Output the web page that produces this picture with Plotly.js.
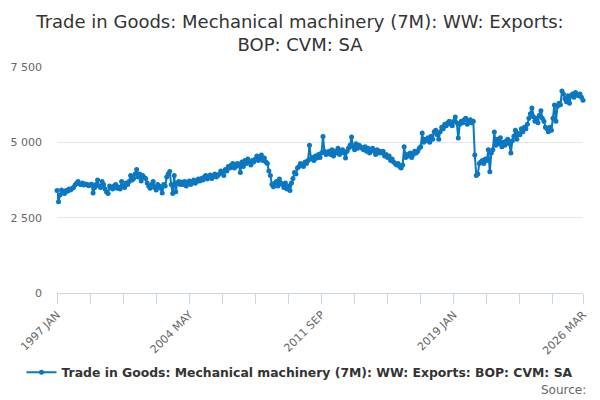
<!DOCTYPE html>
<html>
<head>
<meta charset="utf-8">
<script src="https://cdn.plot.ly/plotly-3.0.1.min.js"></script>
<style>
html,body{margin:0;padding:0;background:#fff;}
#chart{width:600px;height:400px;}
</style>
</head>
<body>
<div id="chart"></div>
<script>
var seriesName = "Trade in Goods: Mechanical machinery (7M): WW: Exports: BOP: CVM: SA";
var monthNames = ["JAN","FEB","MAR","APR","MAY","JUN","JUL","AUG","SEP","OCT","NOV","DEC"];
var startYear = 1997;

var v1997 = [3400, 3030, 3250, 3420, 3350, 3300, 3400, 3380, 3450, 3420, 3470, 3500];
var v1998 = [3580, 3640, 3700, 3620, 3600, 3650, 3580, 3620, 3600, 3560, 3590, 3610];
var v1999 = [3320, 3500, 3600, 3750, 3550, 3500, 3700, 3600, 3450, 3350, 3300, 3550];
var v2000 = [3500, 3450, 3550, 3600, 3480, 3520, 3450, 3700, 3550, 3500, 3650, 3600];
var v2001 = [3700, 3900, 3750, 3800, 3950, 4100, 3850, 3950, 3720, 3900, 3830, 3800];
var v2002 = [3650, 3550, 3480, 3600, 3700, 3500, 3420, 3600, 3550, 3480, 3320, 3600];
var v2003 = [3550, 3850, 3950, 4030, 3600, 3300, 3900, 3360, 3650, 3700, 3600, 3680];
var v2004 = [3600, 3700, 3550, 3650, 3720, 3600, 3680, 3750, 3640, 3700, 3780, 3720];
var v2005 = [3800, 3750, 3850, 3900, 3780, 3850, 3920, 3800, 3880, 3950, 3850, 3900];
var v2006 = [3950, 4050, 4000, 3900, 4100, 4050, 4200, 4150, 4250, 4300, 4150, 4200];
var v2007 = [4300, 4250, 4000, 4350, 4200, 4400, 4300, 4450, 4350, 4250, 4400, 4350];
var v2008 = [4450, 4550, 4400, 4500, 4580, 4400, 4480, 4350, 4300, 4050, 3900, 3600];
var v2009 = [3530, 3650, 3700, 3550, 3780, 3650, 3600, 3500, 3650, 3450, 3550, 3400];
var v2010 = [3650, 3800, 4000, 3950, 4150, 4200, 4300, 4250, 4200, 4350, 4300, 4400];
var v2011 = [4900, 4450, 4500, 4400, 4550, 4480, 4600, 4500, 4650, 5190, 4700, 4600];
var v2012 = [4650, 4700, 4600, 4750, 4550, 4700, 4650, 4800, 4600, 4700, 4750, 4650];
var v2013 = [4480, 4700, 4800, 4900, 5180, 4850, 4750, 4950, 4800, 4900, 4850, 4800];
var v2014 = [4750, 4850, 4700, 4800, 4650, 4750, 4800, 4700, 4600, 4750, 4650, 4700];
var v2015 = [4650, 4700, 4550, 4600, 4500, 4550, 4400, 4450, 4350, 4300, 4250, 4300];
var v2016 = [4200, 4150, 4250, 4850, 4500, 4600, 4550, 4650, 4500, 4600, 4700, 4650];
var v2017 = [4700, 4800, 4850, 5310, 5000, 5100, 5050, 5150, 5000, 5200, 5100, 5350];
var v2018 = [5400, 5250, 5100, 5350, 5500, 5450, 5600, 5550, 5650, 5700, 5600, 5550];
var v2019 = [5700, 5840, 5650, 5140, 5600, 5700, 5650, 5750, 5800, 5600, 5700, 5750];
var v2020 = [5650, 5700, 4580, 3900, 3950, 4300, 4350, 4400, 4300, 4450, 4400, 4750];
var v2021 = [4020, 4650, 4750, 5340, 4900, 5100, 4950, 5150, 4850, 5000, 4900, 5050];
var v2022 = [5100, 4950, 4650, 5050, 5200, 5400, 5100, 5300, 5250, 5450, 5350, 5500];
var v2023 = [5450, 5600, 5800, 5950, 6140, 5850, 5700, 5800, 5650, 5900, 6050, 5800];
var v2024 = [5700, 5500, 5450, 5350, 5500, 5400, 5800, 6240, 5700, 6200, 6300, 6250];
var v2025 = [6700, 6600, 6450, 6350, 6550, 6300, 6550, 6600, 6500, 6650, 6600, 6550];
var v2026 = [6600, 6500, 6400];

var yearly = [v1997,v1998,v1999,v2000,v2001,v2002,v2003,v2004,v2005,v2006,v2007,v2008,v2009,v2010,
  v2011,v2012,v2013,v2014,v2015,v2016,v2017,v2018,v2019,v2020,v2021,v2022,v2023,v2024,v2025,v2026];

var yTicks = [0, 2500, 5000, 7500];
var xLabelEvery = 88;
var xTickEvery = 22;

var cats = [], vals = [];
yearly.forEach(function(arr, yi){
  arr.forEach(function(v, mi){
    cats.push((startYear + yi) + " " + monthNames[mi]);
    vals.push(v);
  });
});
var n = cats.length;
var tickvals = [], ticktext = [];
for (var i = 0; i < n; i += xTickEvery) {
  tickvals.push(cats[i]);
  ticktext.push(i % xLabelEvery === 0 ? cats[i] : "");
}
if (tickvals[tickvals.length-1] !== cats[n-1]) { tickvals.push(cats[n-1]); ticktext.push(cats[n-1]); }

var trace = {
  x: cats, y: vals, type: "scatter", mode: "lines+markers", name: seriesName,
  line: {color: "#0a77c2", width: 2},
  marker: {color: "#0a77c2", size: 5},
  cliponaxis: false,
  hoverinfo: "x+y"
};

var layout = {
  width: 600, height: 400,
  margin: {l: 57, r: 17, t: 67, b: 107, autoexpand: false},
  paper_bgcolor: "#fff", plot_bgcolor: "#fff",
  font: {family: "DejaVu Sans, sans-serif", color: "#666", size: 11},
  separators: ". ",
  title: {
    text: "Trade in Goods: Mechanical machinery (7M): WW: Exports:<br>BOP: CVM: SA",
    font: {family: "DejaVu Sans, sans-serif", size: 18, color: "#333"},
    x: 0.5, xanchor: "center", xref: "container",
    y: 0.93, yanchor: "top", yref: "container"
  },
  xaxis: {
    type: "category", range: [0, n-1],
    tickmode: "array", tickvals: tickvals, ticktext: ticktext,
    tickangle: -45, ticks: "outside", ticklen: 10, tickcolor: "#ccd6eb", tickwidth: 1,
    showline: true, linecolor: "#ccd6eb", linewidth: 1,
    showgrid: false, zeroline: false, automargin: false,
    tickfont: {size: 11, color: "#666"}
  },
  yaxis: {
    range: [0, 7500], tickmode: "array", tickvals: yTicks,
    tickformat: ",d",
    showgrid: true, gridcolor: "#e6e6e6", gridwidth: 1,
    zeroline: false, showline: false, ticks: "", ticklen: 0,
    ticklabelstandoff: 14, automargin: false,
    tickfont: {size: 11, color: "#666"}
  },
  showlegend: true,
  legend: {
    orientation: "h", x: 0.5, xanchor: "center", xref: "container",
    y: 0.068, yanchor: "middle", yref: "container",
    font: {family: "DejaVu Sans, sans-serif", size: 12.4, color: "#333", weight: "bold"},
    itemwidth: 30
  },
  annotations: [{
    text: "Source:", xref: "paper", yref: "paper", x: 1.01, y: -0.43,
    xanchor: "right", yanchor: "middle", showarrow: false,
    font: {family: "DejaVu Sans, sans-serif", size: 12, color: "#666"}
  }]
};

Plotly.newPlot("chart", [trace], layout, {displayModeBar: false, staticPlot: true});
</script>
</body>
</html>
